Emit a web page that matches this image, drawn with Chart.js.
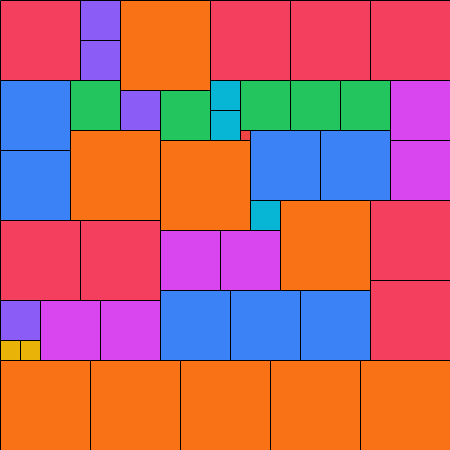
<!DOCTYPE html>
<html>
<head>
<meta charset="utf-8">
<title>Square mosaic</title>
<script src="https://cdn.jsdelivr.net/npm/chart.js@4/dist/chart.umd.min.js"></script>
<style>
    html, body { margin: 0; padding: 0; background: #ffffff; }
    #mosaic { display: block; }
</style>
</head>
<body>
<canvas id="mosaic" width="450" height="450"></canvas>
<script>
// Squares: left edge, top edge and side length, in data units (0..450)
const squareX = [0, 80, 80, 120, 210, 290, 370,
    0, 70, 120, 160, 210, 210, 240, 240, 290, 340, 390,
    0, 70, 160, 250, 320, 390, 250, 280, 370,
    0, 80, 160, 220, 0, 40, 100, 0, 20, 160, 230, 300, 370,
    0, 90, 180, 270, 360];
const squareY = [0, 0, 40, 0, 0, 0, 0,
    80, 80, 90, 90, 80, 110, 130, 80, 80, 80, 80,
    150, 130, 140, 130, 130, 140, 200, 200, 200,
    220, 220, 230, 230, 300, 300, 300, 340, 340, 290, 290, 290, 280,
    360, 360, 360, 360, 360];
const squareSide = [80, 40, 40, 90, 80, 80, 80,
    70, 50, 40, 50, 30, 30, 10, 50, 50, 50, 60,
    70, 90, 90, 70, 70, 60, 30, 90, 80,
    80, 80, 60, 60, 40, 60, 60, 20, 20, 70, 70, 70, 80,
    90, 90, 90, 90, 90];

// Colour follows the side length
const sideColors = {
    10: '#ef4444',
    20: '#eab308',
    30: '#06b6d4',
    40: '#8b5cf6',
    50: '#22c55e',
    60: '#d946ef',
    70: '#3b82f6',
    80: '#f43f5e',
    90: '#f97316'
};

const datasets = [];
squareSide.forEach((side, i) => {
    const x0 = squareX[i];
    const y0 = squareY[i];
    const x1 = x0 + side;
    const y1 = y0 + side;

    // filled body: top edge filled down to the bottom edge
    datasets.push({
        data: [{ x: x0, y: y0 }, { x: x1, y: y0 }],
        fill: { value: y1 },
        backgroundColor: sideColors[side],
        borderWidth: 0,
        pointRadius: 0,
        order: 1
    });

    // outline
    datasets.push({
        data: [
            { x: x0, y: y0 }, { x: x1, y: y0 }, { x: x1, y: y1 },
            { x: x0, y: y1 }, { x: x0, y: y0 }
        ],
        fill: false,
        borderColor: '#000000',
        borderWidth: 1,
        pointRadius: 0,
        order: 0
    });
});

new Chart(document.getElementById('mosaic'), {
    type: 'line',
    data: { datasets },
    options: {
        responsive: false,
        animation: false,
        layout: { padding: 0 },
        plugins: {
            legend: { display: false },
            tooltip: { enabled: false }
        },
        scales: {
            x: { type: 'linear', min: -0.5, max: 449.5, display: false },
            y: { type: 'linear', min: -0.5, max: 449.5, reverse: true, display: false }
        }
    }
});
</script>
</body>
</html>
